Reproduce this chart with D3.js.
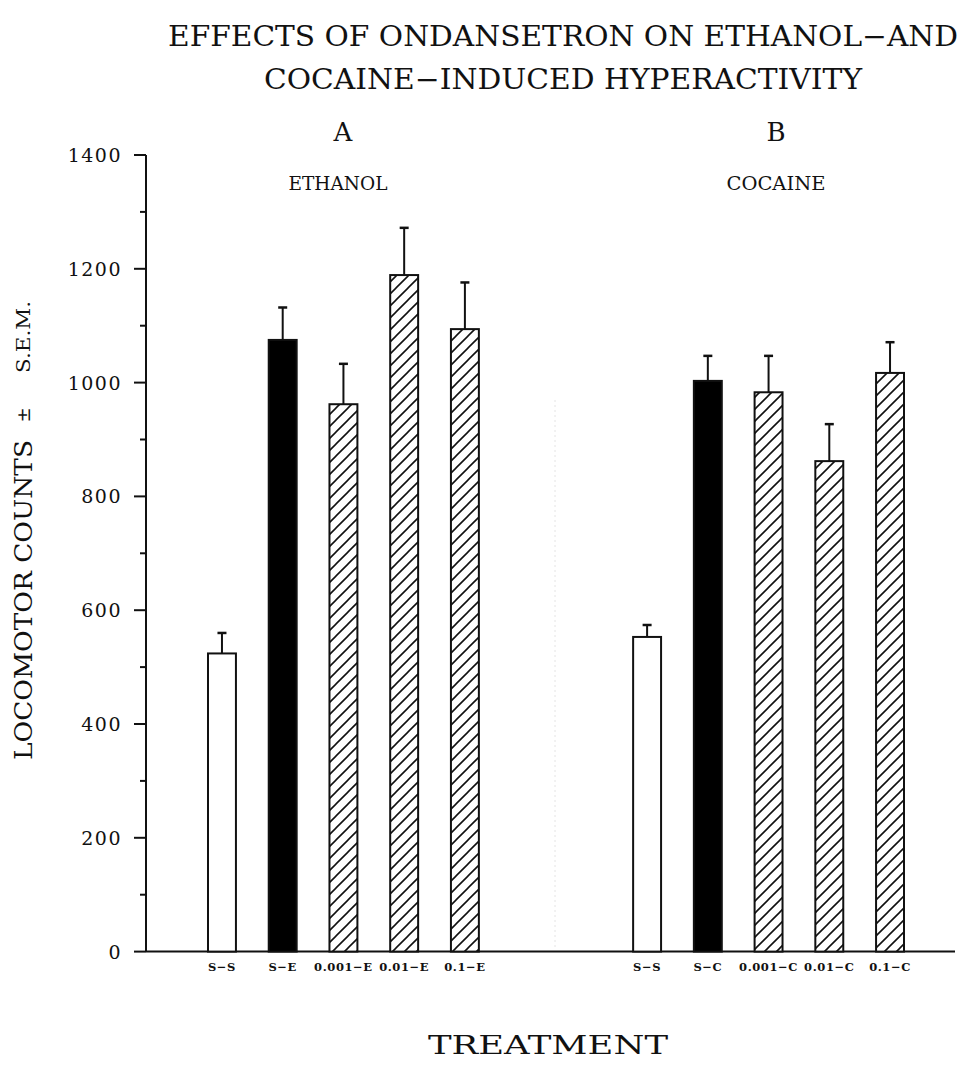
<!DOCTYPE html>
<html><head><meta charset="utf-8">
<script src="https://cdn.jsdelivr.net/npm/d3@7"></script>
<style>body{margin:0;background:#fff}svg{display:block}text{font-family:"DejaVu Serif","Liberation Serif",serif;fill:#111}</style>
</head><body>
<svg id="c" width="964" height="1084"></svg>
<script>
// ---- data ----
const slots = ["S-S|A","S-E","0.001-E","0.01-E","0.1-E","gap1","gap2","S-S|B","S-C","0.001-C","0.01-C","0.1-C"];
const categories = ["S-S|A","S-E","0.001-E","0.01-E","0.1-E","S-S|B","S-C","0.001-C","0.01-C","0.1-C"];
const means = [524,1075,962,1189,1094, 553,1003,983,862,1017];
const sems  = [36,57,71,83,82, 21,44,64,65,54];
const fills = ["open","solid","hatch","hatch","hatch","open","solid","hatch","hatch","hatch"];
const yTicks = [0,100,200,300,400,500,600,700,800,900,1000,1100,1200,1300,1400];
const yLabels = [0,200,400,600,800,1000,1200,1400];

const svg = d3.select("#c");
const defs = svg.append("defs");
const pat = defs.append("pattern").attr("id","hatch").attr("patternUnits","userSpaceOnUse")
  .attr("width",12).attr("height",12);
pat.append("rect").attr("width",12).attr("height",12).attr("fill","#fff");
pat.append("path").attr("d","M-3,3 L3,-3 M0,12 L12,0 M9,15 L15,9").attr("stroke","#111").attr("stroke-width",1.6);

const x = d3.scaleBand().domain(slots).range([191.6,920.4]).paddingInner(0.54).paddingOuter(0.27);
const y = d3.scaleLinear().domain([0,1400]).range([951.6,155]);
const axisX = 146;

// faint divider
svg.append("line").attr("x1",555).attr("x2",555).attr("y1",400).attr("y2",948)
  .attr("stroke","#e4e4e4").attr("stroke-width",1).attr("stroke-dasharray","2,3");

// y axis
svg.append("line").attr("x1",axisX).attr("x2",axisX).attr("y1",y(1400)).attr("y2",y(0)).attr("stroke","#111").attr("stroke-width",2);
svg.selectAll(".yt").data(yTicks).enter().append("line")
  .attr("x1",d=> yLabels.includes(d)? axisX-12 : axisX-6).attr("x2",axisX)
  .attr("y1",d=>y(d)).attr("y2",d=>y(d)).attr("stroke","#111").attr("stroke-width",2);
svg.selectAll(".yl").data(yLabels).enter().append("text")
  .attr("x",122).attr("y",d=>y(d)+7).attr("text-anchor","end")
  .attr("font-size",19).attr("letter-spacing",1.5).text(d=>d);

// x axis
svg.append("line").attr("x1",axisX).attr("x2",955).attr("y1",y(0)).attr("y2",y(0)).attr("stroke","#111").attr("stroke-width",2);

const data = categories.map((c,i)=>({c, m:means[i], s:sems[i], f:fills[i]}));
const bw = x.bandwidth();
// error bars
const eb = svg.selectAll(".eb").data(data).enter().append("g");
eb.append("line").attr("x1",d=>x(d.c)+bw/2).attr("x2",d=>x(d.c)+bw/2)
  .attr("y1",d=>y(d.m)).attr("y2",d=>y(d.m+d.s)).attr("stroke","#111").attr("stroke-width",2);
eb.append("line").attr("x1",d=>x(d.c)+bw/2-4.5).attr("x2",d=>x(d.c)+bw/2+4.5)
  .attr("y1",d=>y(d.m+d.s)).attr("y2",d=>y(d.m+d.s)).attr("stroke","#111").attr("stroke-width",2.5);
// bars
svg.selectAll(".bar").data(data).enter().append("rect")
  .attr("x",d=>x(d.c)).attr("width",bw)
  .attr("y",d=>y(d.m)).attr("height",d=>y(0)-y(d.m))
  .attr("fill",d=> d.f==="solid"?"#000": d.f==="hatch"?"url(#hatch)":"#fff")
  .attr("stroke","#111").attr("stroke-width",2);

// x labels
svg.selectAll(".xl").data(data).enter().append("text")
  .attr("x",d=>x(d.c)+bw/2).attr("y",971).attr("text-anchor","middle")
  .attr("font-size",11.5).attr("font-weight","bold").attr("letter-spacing",0.6)
  .text(d=>d.c.split("|")[0].replace(/-/g,"\u2212"));

// titles
svg.append("text").attr("x",563).attr("y",46).attr("text-anchor","middle").attr("font-size",28)
  .attr("textLength",790).attr("lengthAdjust","spacingAndGlyphs").text("EFFECTS OF ONDANSETRON ON ETHANOL\u2212AND");
svg.append("text").attr("x",563).attr("y",89).attr("text-anchor","middle").attr("font-size",28)
  .attr("textLength",598).attr("lengthAdjust","spacingAndGlyphs").text("COCAINE\u2212INDUCED HYPERACTIVITY");
svg.append("text").attr("x",343).attr("y",141).attr("text-anchor","middle").attr("font-size",26).text("A");
svg.append("text").attr("x",776).attr("y",141).attr("text-anchor","middle").attr("font-size",26).text("B");
svg.append("text").attr("x",338).attr("y",190).attr("text-anchor","middle").attr("font-size",19)
  .attr("textLength",99).attr("lengthAdjust","spacingAndGlyphs").text("ETHANOL");
svg.append("text").attr("x",776).attr("y",190).attr("text-anchor","middle").attr("font-size",19)
  .attr("textLength",99).attr("lengthAdjust","spacingAndGlyphs").text("COCAINE");

// y label
svg.append("text").attr("transform","translate(32,600) rotate(-90)").attr("text-anchor","middle")
  .attr("font-size",25).attr("textLength",320).attr("lengthAdjust","spacingAndGlyphs").text("LOCOMOTOR COUNTS");
svg.append("text").attr("transform","translate(30,415) rotate(-90)").attr("text-anchor","middle")
  .attr("font-size",18).text("\u00B1");
svg.append("text").attr("transform","translate(30,337) rotate(-90)").attr("text-anchor","middle")
  .attr("font-size",18).attr("textLength",72).attr("lengthAdjust","spacingAndGlyphs").text("S.E.M.");

// x title
svg.append("text").attr("x",548).attr("y",1054).attr("text-anchor","middle").attr("font-size",26)
  .attr("textLength",240).attr("lengthAdjust","spacingAndGlyphs").text("TREATMENT");
</script>
</body></html>
